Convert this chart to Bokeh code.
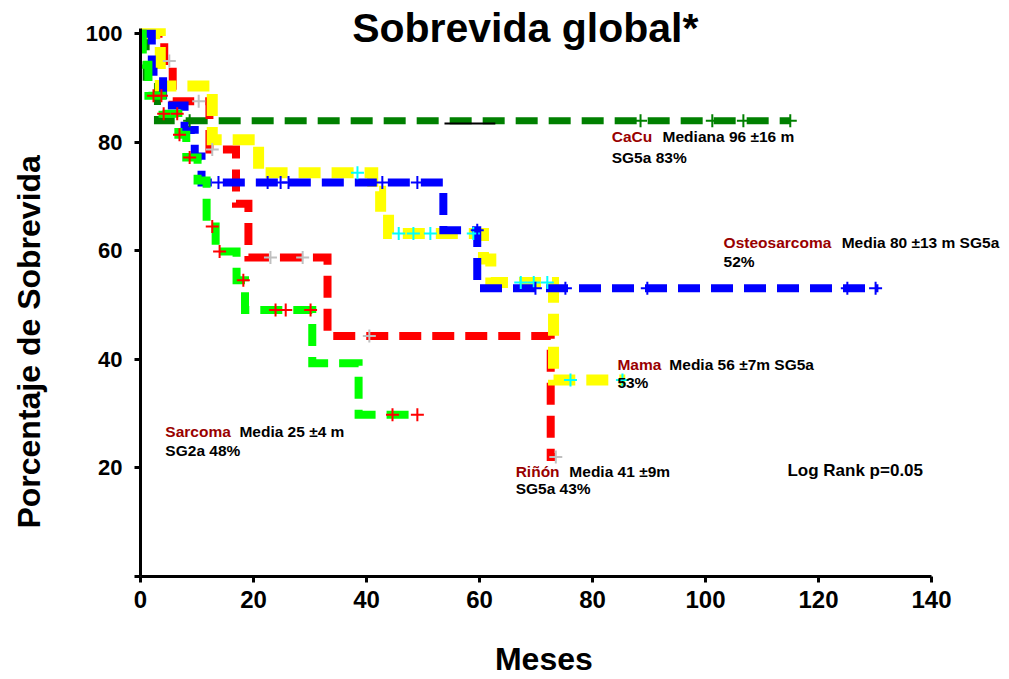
from bokeh.plotting import figure
from bokeh.models import Range1d, FixedTicker, Label
from bokeh.embed import file_html
from bokeh.resources import INLINE

# ---------------- data (months, % survival) ----------------
x_ticks = [0, 20, 40, 60, 80, 100, 120, 140]
y_ticks = [0, 20, 40, 60, 80, 100]

# CaCu (dark green)
cacu_t = [0, 1.0, 3.0]
cacu_s = [100, 92.0, 84.0]
cacu_end = 115.0
cacu_cens_t = [8.7, 88.5, 101.2, 106.7, 115.0]
cacu_cens_s = [84.0, 84.0, 84.0, 84.0, 84.0]

# Osteosarcoma (blue)
osteo_t = [0, 2.0, 4.0, 7.8, 9.6, 10.8, 53.6, 59.6]
osteo_s = [100, 93.0, 86.8, 82.3, 77.4, 72.6, 63.8, 53.1]
osteo_end = 130.6
osteo_cens_t = [13.8, 22.5, 24.8, 26.2, 42.8, 49.0, 59.6, 69.9, 75.2, 89.7, 125.1, 130.1]
osteo_cens_s = [72.6, 72.6, 72.6, 72.6, 72.6, 72.6, 63.8, 53.1, 53.1, 53.1, 53.1, 53.1]

# Mama (yellow)
mama_t = [0, 3.5, 12.7, 20.9, 41.1, 42.5, 43.9, 60.7, 62.0, 73.1]
mama_s = [100, 90.4, 80.5, 74.4, 71.0, 67.0, 63.2, 58.5, 54.2, 36.2]
mama_end = 85.8
mama_cens_t = [38.4, 45.7, 48.3, 51.3, 58.9, 67.3, 69.6, 72.0, 76.1, 85.3]
mama_cens_s = [74.4, 63.2, 63.2, 63.2, 63.2, 54.2, 54.2, 54.2, 36.2, 36.2]

# Riñón (red)
rinon_t = [0, 4.2, 5.7, 12.2, 16.9, 19.1, 33.1, 72.6]
rinon_s = [100, 95.0, 87.6, 78.7, 68.7, 58.8, 44.3, 22.0]
rinon_end = 73.5
rinon_cens_t = [5.1, 10.3, 12.7, 23.0, 28.7, 40.5, 73.5]
rinon_cens_s = [95.0, 87.6, 78.7, 58.8, 58.8, 44.3, 22.0]

# Sarcoma (bright green)
sarc_t = [0, 0.4, 1.4, 3.9, 6.7, 8.1, 10.1, 11.7, 13.3, 17.0, 18.5, 30.4, 38.6]
sarc_s = [100, 94.3, 88.6, 85.3, 81.4, 77.2, 73.0, 64.5, 59.9, 54.6, 49.1, 39.3, 29.8]
sarc_end = 49.2
sarc_cens_t = [2.3, 3.7, 4.1, 6.5, 6.9, 8.7, 12.7, 14.0, 18.2, 23.9, 25.7, 30.1, 44.6, 49.0]
sarc_cens_s = [88.6, 88.6, 85.3, 85.3, 81.4, 77.2, 64.5, 59.9, 54.6, 49.1, 49.1, 49.1, 29.8, 29.8]

# small black median marker segment on the CaCu curve
marker_seg_t = [53.8, 62.8]
marker_seg_s = [83.5, 83.5]


def steps(t, s, end):
    xs, ys = [], []
    for i in range(len(t)):
        x1 = t[i + 1] if i + 1 < len(t) else end
        xs += [t[i], x1]
        ys += [s[i], s[i]]
    return xs, ys


# 5.65 px per month, 5.436 px per percent; the frame runs to the top and right
# edges of the canvas so that the title and annotations are not clipped
p = figure(width=1009, height=679, output_backend="svg", toolbar_location=None,
           x_range=Range1d(0, 153.8), y_range=Range1d(0, 106.15),
           min_border_left=140, min_border_right=0, min_border_top=0,
           min_border_bottom=102)
p.outline_line_color = None
p.grid.visible = False
p.background_fill_color = "white"
p.border_fill_color = "white"

DASH = "22 11"
curves = [
    (cacu_t, cacu_s, cacu_end, "#008000", 7),
    (rinon_t, rinon_s, rinon_end, "#FF0000", 8),
    (mama_t, mama_s, mama_end, "#FFFF00", 11),
    (osteo_t, osteo_s, osteo_end, "#0000FF", 8),
    (sarc_t, sarc_s, sarc_end, "#00FF00", 8),
]
for t, s, end, col, w in curves:
    xs, ys = steps(t, s, end)
    p.line(xs, ys, line_color=col, line_width=w, line_dash=DASH, line_cap="butt",
           line_join="miter")

p.line(marker_seg_t, marker_seg_s, line_color="black", line_width=2)

cens = [
    (cacu_cens_t, cacu_cens_s, "#008000"),
    (rinon_cens_t, rinon_cens_s, "#C0C0C0"),
    (mama_cens_t, mama_cens_s, "#00FFFF"),
    (osteo_cens_t, osteo_cens_s, "#0000FF"),
    (sarc_cens_t, sarc_cens_s, "#FF0000"),
]
for t, s, col in cens:
    p.scatter(t, s, marker="cross", size=13, line_color=col, line_width=2)

# axes
for ax in (p.xaxis[0], p.yaxis[0]):
    ax.axis_line_width = 3
    ax.axis_line_color = "black"
    ax.major_tick_line_width = 3
    ax.major_tick_line_color = "black"
    ax.major_tick_out = 6
    ax.major_tick_in = 0
    ax.minor_tick_line_color = None
    ax.major_label_text_color = "black"
    ax.major_label_text_font_style = "bold"
    ax.axis_label_text_color = "black"
    ax.axis_label_text_font_style = "bold"

NB = "\u00a0"
p.xaxis.bounds = (0, 140)
p.xaxis.ticker = FixedTicker(ticks=x_ticks)
p.xaxis.major_label_text_font = "Liberation Sans"
p.xaxis.major_label_text_font_size = "24px"
p.xaxis.major_label_standoff = 8
p.xaxis.axis_label = "Meses" + NB * 7
p.xaxis.axis_label_text_font = "Liberation Sans"
p.xaxis.axis_label_text_font_size = "32px"
p.xaxis.axis_label_standoff = 30

p.yaxis.bounds = (0, 101)
p.yaxis.ticker = FixedTicker(ticks=y_ticks)
p.yaxis.major_label_overrides = {0: ""}
p.yaxis.major_label_text_font = "Liberation Sans"
p.yaxis.major_label_text_font_size = "22px"
p.yaxis.major_label_standoff = 12
p.yaxis.axis_label = "Porcentaje de Sobrevida" + NB * 12
p.yaxis.axis_label_text_font = "Liberation Sans"
p.yaxis.axis_label_text_font_size = "32px"
p.yaxis.axis_label_standoff = 36

# texts
DARKRED = "#990000"
FONT = "Liberation Sans"


def txt(x, y, text, color="black", size="15.5px", align="left"):
    p.add_layout(Label(x=x, y=y, text=text, text_color=color, text_font=FONT,
                       text_font_size=size, text_font_style="bold",
                       text_align=align, text_baseline="alphabetic"))


txt(68.1, 101.0, "Sobrevida global*", size="41px", align="center")

txt(83.4, 81.0, "CaCu", DARKRED)
txt(92.4, 81.0, "Mediana 96 \u00b116  m")
txt(83.4, 77.3, "SG5a 83%")

txt(103.2, 61.5, "Osteosarcoma", DARKRED)
txt(124.1, 61.5, "Media 80 \u00b113 m SG5a")
txt(103.2, 58.0, "52%")

txt(84.4, 39.1, "Mama", DARKRED)
txt(93.6, 39.1, "Media 56 \u00b17m  SG5a")
txt(84.4, 35.8, "53%")

txt(66.4, 19.4, "Riñón", DARKRED)
txt(75.9, 19.4, "Media 41 \u00b19m")
txt(66.4, 16.3, "SG5a 43%")

txt(114.5, 19.5, "Log Rank p=0.05", size="17px")

txt(4.4, 26.8, "Sarcoma", DARKRED)
txt(17.5, 26.8, "Media 25 \u00b14 m")
txt(4.4, 23.3, "SG2a 48%")

open("out.html", "w").write(file_html(p, INLINE))
